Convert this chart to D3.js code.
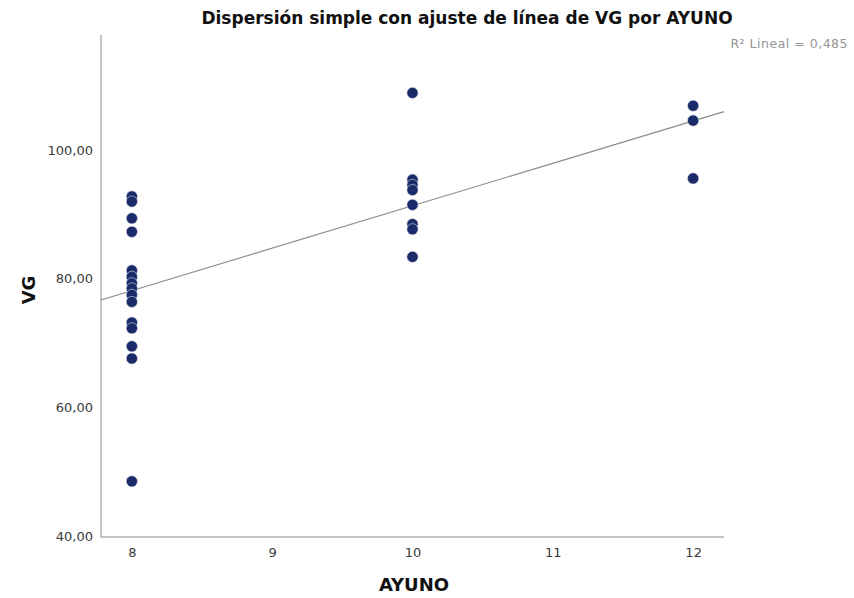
<!DOCTYPE html>
<html><head><meta charset="utf-8">
<script src="https://cdn.jsdelivr.net/npm/d3@7"></script>
<style>body{margin:0;background:#fff}svg{display:block}</style>
</head><body>
<svg id="c" width="854" height="598"></svg>
<script>
const ayuno8 = [92.8, 92.0, 89.4, 87.3, 81.3, 80.3, 79.3, 78.5, 77.5, 76.4, 73.2, 72.3, 69.5, 67.6, 48.5];
const ayuno10 = [108.9, 95.4, 94.6, 93.8, 91.5, 88.5, 87.7, 83.4];
const ayuno12 = [106.9, 104.6, 95.6];
const groups = [8, 10, 12];
const xTicks = [8, 9, 10, 11, 12];
const yTicks = [40, 60, 80, 100];
const title = "Dispersión simple con ajuste de línea de VG por AYUNO";
const r2Label = "R² Lineal = 0,485";

const points = [];
[ayuno8, ayuno10, ayuno12].forEach((arr, i) => arr.forEach(v => points.push({x: groups[i], y: v})));

const svg = d3.select("#c");
const pL = 101, pR = 724, pT = 35, pB = 537;
const x = d3.scaleLinear().domain([7.78, 12.22]).range([pL, pR]);
const y = d3.scaleLinear().domain([40, 117.9]).range([pB - 1, pT]);

const fmt = d => d.toFixed(2).replace(".", ",");

// axes
const gx = svg.append("g").attr("transform", `translate(0,${pB})`)
  .call(d3.axisBottom(x).tickValues(xTicks).tickSize(0).tickPadding(11).tickFormat(d3.format("d")));
gx.select(".domain").attr("stroke", "#8a8a8a").attr("d", `M${pL},0H${pR}`);
gx.selectAll("text").attr("font-family", "DejaVu Sans").attr("font-size", 13).attr("fill", "#3a3a3a");

const gy = svg.append("g").attr("transform", `translate(${pL},0)`)
  .call(d3.axisLeft(y).tickValues(yTicks).tickSize(0).tickPadding(8).tickFormat(fmt));
gy.select(".domain").attr("stroke", "#8a8a8a").attr("d", `M0,${pT}V${pB}`);
gy.selectAll("text").attr("font-family", "DejaVu Sans").attr("font-size", 13).attr("fill", "#3a3a3a");

// regression (OLS from data)
const mx = d3.mean(points, d => d.x), my = d3.mean(points, d => d.y);
const sxy = d3.sum(points, d => (d.x - mx) * (d.y - my));
const sxx = d3.sum(points, d => (d.x - mx) ** 2);
const b = sxy / sxx, a = my - b * mx;
const [x0, x1] = x.domain();
svg.append("line")
  .attr("x1", x(x0)).attr("y1", y(a + b * x0))
  .attr("x2", x(x1)).attr("y2", y(a + b * x1))
  .attr("stroke", "#8a8a8a").attr("stroke-width", 1.1);

// points
svg.append("g").selectAll("circle").data(points).join("circle")
  .attr("cx", d => x(d.x)).attr("cy", d => y(d.y)).attr("r", 5.6)
  .attr("fill", "#1b2a69").attr("stroke", "#d8dcea").attr("stroke-width", 0.6);

// texts
svg.append("text").attr("x", 467).attr("y", 24).attr("text-anchor", "middle")
  .attr("font-family", "DejaVu Sans").attr("font-weight", "bold").attr("font-size", 17)
  .attr("fill", "#111").text(title);
svg.append("text").attr("x", 848).attr("y", 48).attr("text-anchor", "end")
  .attr("font-family", "DejaVu Sans").attr("font-size", 12.5).attr("letter-spacing", 0.5)
  .attr("fill", "#959595").text(r2Label);
svg.append("text").attr("x", 414).attr("y", 591).attr("text-anchor", "middle")
  .attr("font-family", "DejaVu Sans").attr("font-weight", "bold").attr("font-size", 18)
  .attr("fill", "#111").text("AYUNO");
svg.append("text").attr("transform", "translate(35,290) rotate(-90)").attr("text-anchor", "middle")
  .attr("font-family", "DejaVu Sans").attr("font-weight", "bold").attr("font-size", 18)
  .attr("fill", "#111").text("VG");
</script>
</body></html>
